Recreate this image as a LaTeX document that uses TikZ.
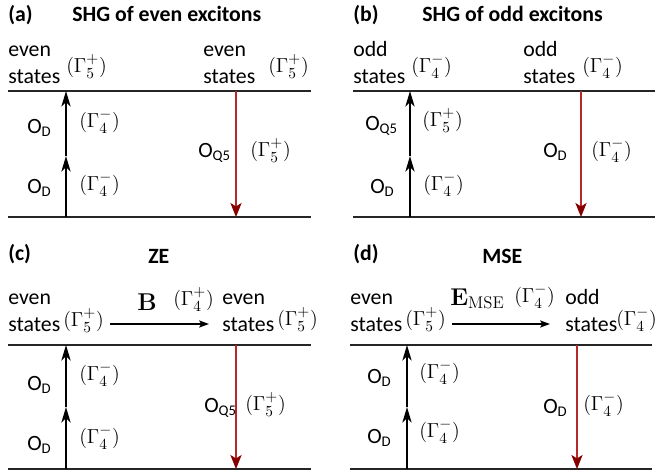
\documentclass[tikz,border=0pt]{standalone}
\usepackage[no-math]{fontspec}
\setmainfont{Carlito}
\usepackage{amsmath}
\definecolor{lvred}{RGB}{185,40,40}
\definecolor{lvdark}{RGB}{135,0,0}
\usetikzlibrary{arrows.meta}
\newcommand{\opsub}[2]{#1\lower2.2pt\hbox{\fontsize{10.5}{12}\selectfont #2}}

\begin{document}
\begin{tikzpicture}[x=0.025cm,y=-0.025cm,
    font=\fontsize{15.5}{18.5}\selectfont,
    txt/.style={anchor=base west, inner sep=0pt},
    lvl/.style={txt, align=left},
    ttl/.style={txt, font=\fontsize{15.5}{18.5}\selectfont\bfseries},
    fld/.style={txt, font=\fontsize{18.5}{20}\selectfont},
    level/.style={line width=1.1pt, black!85},
    uparr/.style={line width=1.4pt, -{Stealth[length=11pt, width=6.5pt, inset=3pt]}},
    dnarr/.style={line width=0.9pt, lvred, -{Stealth[length=10pt, width=8pt, inset=2.5pt, color=lvdark]}},
    fieldarr/.style={line width=1.6pt, -{Stealth[length=7pt, width=5pt, inset=1.5pt]}}
  ]
  \useasboundingbox (0,0) rectangle (659,475);

  % (a)
  \node[ttl] (la) at (8,21) {(a)};
  \node[ttl] (ta) at (72,21) {SHG of even excitons};
  \node[lvl] (a1) at (8,83) {even\\states};
  \node[txt] (ga1) at (66,72) {$(\Gamma_5^+)$};
  \node[lvl] (a2) at (203,83) {even\\states};
  \node[txt] (ga2) at (268,72) {$(\Gamma_5^+)$};
  \coordinate (aTL) at (8,91);   \coordinate (aTR) at (311,91);
  \coordinate (aBL) at (8,217);  \coordinate (aBR) at (311,217);
  \draw[level] (aTL) -- (aTR);
  \draw[level] (aBL) -- (aBR);
  \coordinate (aU0) at (66,217); \coordinate (aU1) at (66,156); \coordinate (aU2) at (66,91);
  \draw[uparr] (aU0) -- (aU1);
  \draw[uparr] (aU1) -- (aU2);
  \node[txt] (oa1) at (27,133) {\opsub{O}{D}};
  \node[txt] (ra1) at (79,127) {$(\Gamma_4^-)$};
  \node[txt] (oa2) at (27,193) {\opsub{O}{D}};
  \node[txt] (ra2) at (79,190) {$(\Gamma_4^-)$};
  \coordinate (aD0) at (236,91); \coordinate (aD1) at (236,217);
  \draw[dnarr] (aD0) -- (aD1);
  \node[txt] (oa3) at (198,157) {\opsub{O}{Q5}};
  \node[txt] (ra3) at (250,156) {$(\Gamma_5^+)$};

  % (b)
  \node[ttl] (lb) at (353,21) {(b)};
  \node[ttl] (tb) at (422,21) {SHG of odd excitons};
  \node[lvl] (b1) at (353,83) {odd\\states};
  \node[txt] (gb1) at (411,72) {$(\Gamma_4^-)$};
  \node[lvl] (b2) at (523,83) {odd\\states};
  \node[txt] (gb2) at (582,72) {$(\Gamma_4^-)$};
  \coordinate (bTL) at (353,91);  \coordinate (bTR) at (655,91);
  \coordinate (bBL) at (353,217); \coordinate (bBR) at (655,217);
  \draw[level] (bTL) -- (bTR);
  \draw[level] (bBL) -- (bBR);
  \coordinate (bU0) at (410,217); \coordinate (bU1) at (410,156); \coordinate (bU2) at (410,91);
  \draw[uparr] (bU0) -- (bU1);
  \draw[uparr] (bU1) -- (bU2);
  \node[txt] (ob1) at (365,130) {\opsub{O}{Q5}};
  \node[txt] (rb1) at (422,126) {$(\Gamma_5^+)$};
  \node[txt] (ob2) at (370,193) {\opsub{O}{D}};
  \node[txt] (rb2) at (423,190) {$(\Gamma_4^-)$};
  \coordinate (bD0) at (581,91); \coordinate (bD1) at (581,217);
  \draw[dnarr] (bD0) -- (bD1);
  \node[txt] (ob3) at (543,157) {\opsub{O}{D}};
  \node[txt] (rb3) at (591,156) {$(\Gamma_4^-)$};

  % (c)
  \node[ttl] (lc) at (8,260) {(c)};
  \node[ttl] (tc) at (148,263) {ZE};
  \node[lvl] (c1) at (8,331) {even\\states};
  \node[txt] (gc1) at (63,326) {$(\Gamma_5^+)$};
  \node[lvl] (c2) at (222,331) {even\\states};
  \node[txt] (gc2) at (277,325) {$(\Gamma_5^+)$};
  \node[fld] (fc) at (137,310) {$\mathbf{B}$};
  \node[txt] (fgc) at (173,305) {$(\Gamma_4^+)$};
  \coordinate (cF0) at (110,324); \coordinate (cF1) at (209,324);
  \draw[fieldarr] (cF0) -- (cF1);
  \coordinate (cTL) at (8,345);  \coordinate (cTR) at (311,345);
  \coordinate (cBL) at (8,469);  \coordinate (cBR) at (311,469);
  \draw[level] (cTL) -- (cTR);
  \draw[level] (cBL) -- (cBR);
  \coordinate (cU0) at (66,469); \coordinate (cU1) at (66,407); \coordinate (cU2) at (66,345);
  \draw[uparr] (cU0) -- (cU1);
  \draw[uparr] (cU1) -- (cU2);
  \node[txt] (oc1) at (27,390) {\opsub{O}{D}};
  \node[txt] (rc1) at (79,380) {$(\Gamma_4^-)$};
  \node[txt] (oc2) at (27,450) {\opsub{O}{D}};
  \node[txt] (rc2) at (79,443) {$(\Gamma_4^-)$};
  \coordinate (cD0) at (236,345); \coordinate (cD1) at (236,469);
  \draw[dnarr] (cD0) -- (cD1);
  \node[txt] (oc3) at (204,412) {\opsub{O}{Q5}};
  \node[txt] (rc3) at (245,410) {$(\Gamma_5^+)$};

  % (d)
  \node[ttl] (ld) at (353,260) {(d)};
  \node[ttl] (td) at (482,263) {MSE};
  \node[lvl] (d1) at (350,331) {even\\states};
  \node[txt] (gd1) at (405,325) {$(\Gamma_5^+)$};
  \node[lvl] (d2) at (565,331) {odd\\states};
  \node[txt] (gd2) at (616,325) {$(\Gamma_4^-)$};
  \node[fld] (fd) at (450,305) {$\mathbf{E}_{\mathrm{MSE}}$};
  \node[txt] (fgd) at (514,302) {$(\Gamma_4^-)$};
  \coordinate (dF0) at (452,324); \coordinate (dF1) at (550,324);
  \draw[fieldarr] (dF0) -- (dF1);
  \coordinate (dTL) at (350,345); \coordinate (dTR) at (652,345);
  \coordinate (dBL) at (350,469); \coordinate (dBR) at (652,469);
  \draw[level] (dTL) -- (dTR);
  \draw[level] (dBL) -- (dBR);
  \coordinate (dU0) at (407,469); \coordinate (dU1) at (407,407); \coordinate (dU2) at (407,345);
  \draw[uparr] (dU0) -- (dU1);
  \draw[uparr] (dU1) -- (dU2);
  \node[txt] (od1) at (367,383) {\opsub{O}{D}};
  \node[txt] (rd1) at (419,378) {$(\Gamma_4^-)$};
  \node[txt] (od2) at (367,443) {\opsub{O}{D}};
  \node[txt] (rd2) at (419,437) {$(\Gamma_4^-)$};
  \coordinate (dD0) at (577,345); \coordinate (dD1) at (577,469);
  \draw[dnarr] (dD0) -- (dD1);
  \node[txt] (od3) at (543,413) {\opsub{O}{D}};
  \node[txt] (rd3) at (583,410) {$(\Gamma_4^-)$};
\end{tikzpicture}
\end{document}
